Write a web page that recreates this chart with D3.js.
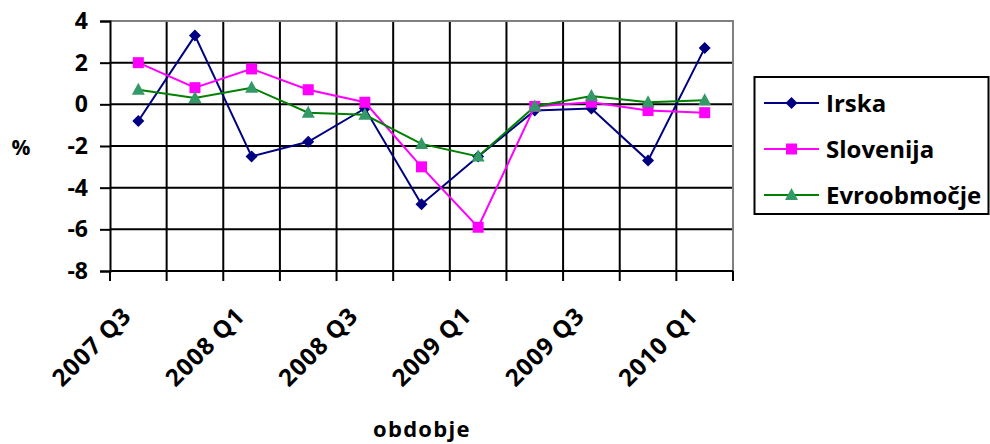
<!DOCTYPE html>
<html>
<head>
<meta charset="utf-8">
<script src="https://cdn.jsdelivr.net/npm/d3@7"></script>
<style>
  html, body { margin: 0; padding: 0; background: #fff; }
  svg { display: block; }
  text { font-family: "Open Sans", "DejaVu Sans", sans-serif; font-weight: bold; fill: #000; }
</style>
</head>
<body>
<svg id="chart" width="990" height="444"></svg>
<script>
const categories = ["2007 Q3","2007 Q4","2008 Q1","2008 Q2","2008 Q3","2008 Q4","2009 Q1","2009 Q2","2009 Q3","2009 Q4","2010 Q1"];
const shownLabels = ["2007 Q3","2008 Q1","2008 Q3","2009 Q1","2009 Q3","2010 Q1"];
const irska = [-0.8, 3.3, -2.5, -1.8, -0.2, -4.8, -2.5, -0.3, -0.2, -2.7, 2.7];
const slovenija = [2.0, 0.8, 1.7, 0.7, 0.1, -3.0, -5.9, -0.1, 0.1, -0.3, -0.4];
const evroobmocje = [0.7, 0.3, 0.8, -0.4, -0.5, -1.9, -2.5, -0.1, 0.4, 0.1, 0.2];
const yTicks = [4, 2, 0, -2, -4, -6, -8];
const seriesNames = ["Irska", "Slovenija", "Evroobmočje"];

const svg = d3.select("#chart");
const L = 110, R = 733, T = 21, B = 271;

const x = d3.scaleBand().domain(categories).range([L, R]).padding(0);
const y = d3.scaleLinear().domain([-8, 4]).range([B, T]);

// horizontal gridlines
svg.append("g").selectAll("line").data(yTicks).join("line")
  .attr("x1", L).attr("x2", R)
  .attr("y1", d => y(d)).attr("y2", d => y(d))
  .attr("stroke", "#000").attr("stroke-width", 2);

// vertical gridlines at category boundaries
const bounds = categories.map(c => x(c)).concat([R]);
svg.append("g").selectAll("line").data(bounds.slice(1)).join("line")
  .attr("x1", d => d).attr("x2", d => d)
  .attr("y1", T).attr("y2", B)
  .attr("stroke", "#000").attr("stroke-width", 2);

// plot border (gray top/right)
svg.append("path")
  .attr("d", `M${L},${T}H${R}V${B}`)
  .attr("fill", "none").attr("stroke", "#808080").attr("stroke-width", 2);

// y axis
const yAxis = d3.axisLeft(y).tickValues(yTicks).tickSize(10).tickPadding(12).tickFormat(d3.format("d"));
const gy = svg.append("g").attr("transform", `translate(${L},0)`).call(yAxis);
gy.select(".domain").attr("stroke", "#000").attr("stroke-width", 2);
gy.selectAll(".tick line").attr("stroke", "#000").attr("stroke-width", 2);
gy.selectAll(".tick text").style("font-size", "23px").attr("fill", "#000")
  .style("font-family", '"Open Sans", sans-serif').style("font-weight", "bold")
  .text(d => d < 0 ? "-" + Math.abs(d) : d);

// x axis ticks at boundaries
svg.append("line").attr("x1", L).attr("x2", R).attr("y1", B).attr("y2", B)
  .attr("stroke", "#000").attr("stroke-width", 2);
svg.append("g").selectAll("line").data(bounds).join("line")
  .attr("x1", d => d).attr("x2", d => d)
  .attr("y1", B).attr("y2", B + 10)
  .attr("stroke", "#000").attr("stroke-width", 2);

// x labels
svg.append("g").selectAll("text").data(shownLabels).join("text")
  .attr("transform", d => `translate(${x(d) + x.bandwidth() / 2 - 6},${B + 47}) rotate(-45)`)
  .attr("text-anchor", "end")
  .attr("textLength", 99).attr("lengthAdjust", "spacing")
  .style("font-size", "24px")
  .text(d => d);

// axis titles
svg.append("text").attr("x", 21).attr("y", 155).attr("text-anchor", "middle")
  .style("font-size", "21px").text("%");
svg.append("text").attr("x", 373).attr("y", 437)
  .style("font-size", "22px").style("letter-spacing", "1.3px").text("obdobje");

// series
const series = [
  { name: seriesNames[0], values: irska, line: "#000080", fill: "#000080", shape: "diamond" },
  { name: seriesNames[1], values: slovenija, line: "#FF00FF", fill: "#FF00FF", shape: "square" },
  { name: seriesNames[2], values: evroobmocje, line: "#008000", fill: "#339966", shape: "triangle" }
];

function markerPath(shape) {
  if (shape === "diamond") return "M0,-6L6,0L0,6L-6,0Z";
  if (shape === "square") return "M-5.5,-5.5H5.5V5.5H-5.5Z";
  return "M0,-7L6.5,5H-6.5Z";
}

const line = d3.line().x((d, i) => x(categories[i]) + x.bandwidth() / 2).y(d => y(d));

series.forEach(s => {
  const g = svg.append("g");
  g.append("path").attr("d", line(s.values)).attr("fill", "none")
    .attr("stroke", s.line).attr("stroke-width", 2);
  g.selectAll("path.m").data(s.values).join("path").attr("class", "m")
    .attr("transform", (d, i) => `translate(${x(categories[i]) + x.bandwidth() / 2},${y(d)})`)
    .attr("d", markerPath(s.shape)).attr("fill", s.fill);
});

// legend
const lg = svg.append("g");
lg.append("rect").attr("x", 754.5).attr("y", 77).attr("width", 234).attr("height", 137)
  .attr("fill", "#fff").attr("stroke", "#000").attr("stroke-width", 2);
const legendY = d3.scalePoint().domain(seriesNames).range([103, 195]);
series.forEach(s => {
  const yy = legendY(s.name);
  lg.append("line").attr("x1", 764).attr("x2", 819).attr("y1", yy).attr("y2", yy)
    .attr("stroke", s.line).attr("stroke-width", 2);
  lg.append("path").attr("transform", `translate(791.5,${yy})`).attr("d", markerPath(s.shape)).attr("fill", s.fill);
  lg.append("text").attr("x", 826).attr("y", yy + 9).style("font-size", "24px").text(s.name);
});
</script>
</body>
</html>
